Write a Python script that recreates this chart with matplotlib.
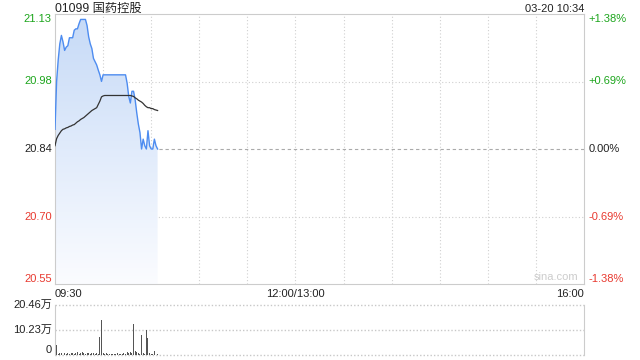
import numpy as np
import matplotlib
matplotlib.use("Agg")
import matplotlib.pyplot as plt
from matplotlib.transforms import blended_transform_factory

plt.rcParams['font.family'] = ['Liberation Sans', 'Noto Sans CJK SC']

# minute-by-minute data from 09:30 to 10:34
prev_close = 20.84
price = [20.882, 20.984, 21.030, 21.064, 21.082, 21.068, 21.050, 21.057, 21.060, 21.077,
         21.077, 21.077, 21.093, 21.096, 21.096, 21.107, 21.116, 21.116, 21.116, 21.116,
         21.103, 21.079, 21.064, 21.054, 21.033, 21.026, 21.019, 21.008, 20.998, 20.984,
         20.998, 20.998, 20.998, 20.998, 20.998, 20.998, 20.998, 20.998, 20.998, 20.998,
         20.998, 20.998, 20.998, 20.998, 20.998, 20.980, 20.952, 20.938, 20.963, 20.963,
         20.945, 20.917, 20.893, 20.875, 20.840, 20.861, 20.847, 20.840, 20.879, 20.847,
         20.840, 20.840, 20.861, 20.847, 20.840]
avg_price = [20.847, 20.862, 20.869, 20.874, 20.879, 20.882, 20.883, 20.885, 20.886, 20.888,
             20.889, 20.891, 20.892, 20.895, 20.898, 20.900, 20.903, 20.905, 20.907, 20.910,
             20.913, 20.916, 20.919, 20.922, 20.924, 20.926, 20.928, 20.935, 20.942, 20.951,
             20.953, 20.954, 20.954, 20.954, 20.954, 20.954, 20.954, 20.954, 20.954, 20.954,
             20.954, 20.954, 20.954, 20.954, 20.954, 20.954, 20.954, 20.954, 20.953, 20.952,
             20.949, 20.947, 20.944, 20.942, 20.940, 20.937, 20.933, 20.930, 20.928, 20.928,
             20.926, 20.926, 20.924, 20.923, 20.922]
volume = [20.46, 4.1, 0.4, 0.7, 1.0, 0.6, 0.9, 0.5, 0.9, 0.6,
          0.8, 0.9, 0.5, 0.7, 1.4, 0.6, 0.9, 1.3, 0.8, 0.6,
          1.0, 0.8, 0.5, 0.7, 0.9, 0.6, 0.8, 0.5, 7.5, 14.3,
          0.9, 0.6, 0.7, 0.5, 0.6, 0.4, 0.5, 0.6, 0.4, 0.7,
          0.5, 0.6, 0.5, 0.9, 0.6, 1.4, 0.9, 1.2, 0.8, 12.7,
          1.8, 1.3, 0.9, 0.6, 8.2, 0.9, 0.5, 10.2, 7.1, 0.8,
          0.6, 0.6, 1.5, 2.3, 0.4]

left_ticks = ['21.13', '20.98', '20.84', '20.70', '20.55']
right_ticks = ['+1.38%', '+0.69%', '0.00%', '-0.69%', '-1.38%']
tick_colors = ['#1ca51c', '#1ca51c', '#222222', '#e8392f', '#e8392f']
x_labels = ['09:30', '12:00/13:00', '16:00']
title = '01099 国药控股'
stamp = '03-20 10:34'

pct = 0.0138
ymax = prev_close * (1 + pct)
ymin = prev_close * (1 - pct)
levels = np.linspace(ymax, ymin, 5)
minutes = np.arange(len(price))
fs = 8

fig = plt.figure(figsize=(6.4, 3.6), dpi=100)
ax = fig.add_axes([55 / 640, 1 - 284 / 360, 529 / 640, 270 / 360])
axv = fig.add_axes([55 / 640, 1 - 355 / 360, 529 / 640, 50 / 360])

ax.set_xlim(0, 330)
ax.set_ylim(ymin, ymax)

# grid
for x in range(30, 330, 30):
    ax.axvline(x, color='#d0d0d0', lw=0.8, ls=(0, (1, 2)), zorder=0)
for y in levels[1:4]:
    if abs(y - prev_close) < 1e-9:
        ax.axhline(y, color='#aaaaaa', lw=0.8, ls=(0, (3, 2.5)), zorder=1)
    else:
        ax.axhline(y, color='#d0d0d0', lw=0.8, ls=(0, (1, 2)), zorder=0)

# gradient fill under price line
poly = ax.fill_between(minutes, price, ymin, color='none', lw=0)
grad = np.linspace(0, 1, 256).reshape(-1, 1)
cmap = matplotlib.colors.LinearSegmentedColormap.from_list('g', ['#fbfcff', '#c6daf7'])
im = ax.imshow(grad, cmap=cmap, aspect='auto', origin='lower',
               extent=[0, 330, ymin, ymax], zorder=1)
im.set_clip_path(poly.get_paths()[0], transform=ax.transData)

ax.plot(minutes, price, color='#4d8cf0', lw=1.0, zorder=3)
ax.plot(minutes, avg_price, color='#333333', lw=0.9, zorder=3)

ax.set_xticks([])
ax.set_yticks([])
for s in ax.spines.values():
    s.set_color('#cccccc')
    s.set_linewidth(0.8)

tr = blended_transform_factory(ax.transAxes, ax.transData)
for i, (y, lt, rt, c) in enumerate(zip(levels, left_ticks, right_ticks, tick_colors)):
    va = 'top' if i == 0 else ('bottom' if i == 4 else 'center')
    ax.text(-0.006, y, lt, transform=tr, ha='right', va=va, fontsize=fs, color=c)
    ax.text(1.009, y, rt, transform=tr, ha='left', va=va, fontsize=fs, color=c)

ax.text(0, 1.008, title, transform=ax.transAxes, ha='left', va='baseline', fontsize=8.8, color='#222222')
ax.text(1, 1.008, stamp, transform=ax.transAxes, ha='right', va='baseline', fontsize=fs, color='#222222')
ax.text(0.99, 0.008, 'sina.com', transform=ax.transAxes, ha='right', va='bottom',
        fontsize=8, color='#cccccc')

ax.text(0, -0.02, x_labels[0], transform=ax.transAxes, ha='left', va='top', fontsize=fs, color='#222222')
ax.text(150 / 330, -0.02, x_labels[1], transform=ax.transAxes, ha='center', va='top', fontsize=fs, color='#222222')
ax.text(1, -0.02, x_labels[2], transform=ax.transAxes, ha='right', va='top', fontsize=fs, color='#222222')

# volume panel
vmax = volume[0]
axv.set_xlim(0, 330)
axv.set_ylim(0, vmax)
axv.bar(minutes, volume, width=0.6, color='#555555', zorder=3)
for y in [vmax, vmax / 2, 0]:
    axv.axhline(y, color='#c8c8c8', lw=1.0, ls=(0, (1, 1.5)), zorder=0, clip_on=False)
axv.set_xticks([])
axv.set_yticks([])
for k in ['top', 'bottom']:
    axv.spines[k].set_visible(False)
for k in ['left', 'right']:
    axv.spines[k].set_color('#cccccc')
    axv.spines[k].set_linewidth(0.8)
vol_labels = ['%.2f万' % vmax, '%.2f万' % (vmax / 2), '0']
for y, lab in zip([vmax, vmax / 2, 0], vol_labels):
    axv.text(-0.006, y, lab, transform=blended_transform_factory(axv.transAxes, axv.transData),
             ha='right', va='center' if y > 0 else 'bottom', fontsize=fs, color='#222222')

fig.savefig('out.png', dpi=100)
